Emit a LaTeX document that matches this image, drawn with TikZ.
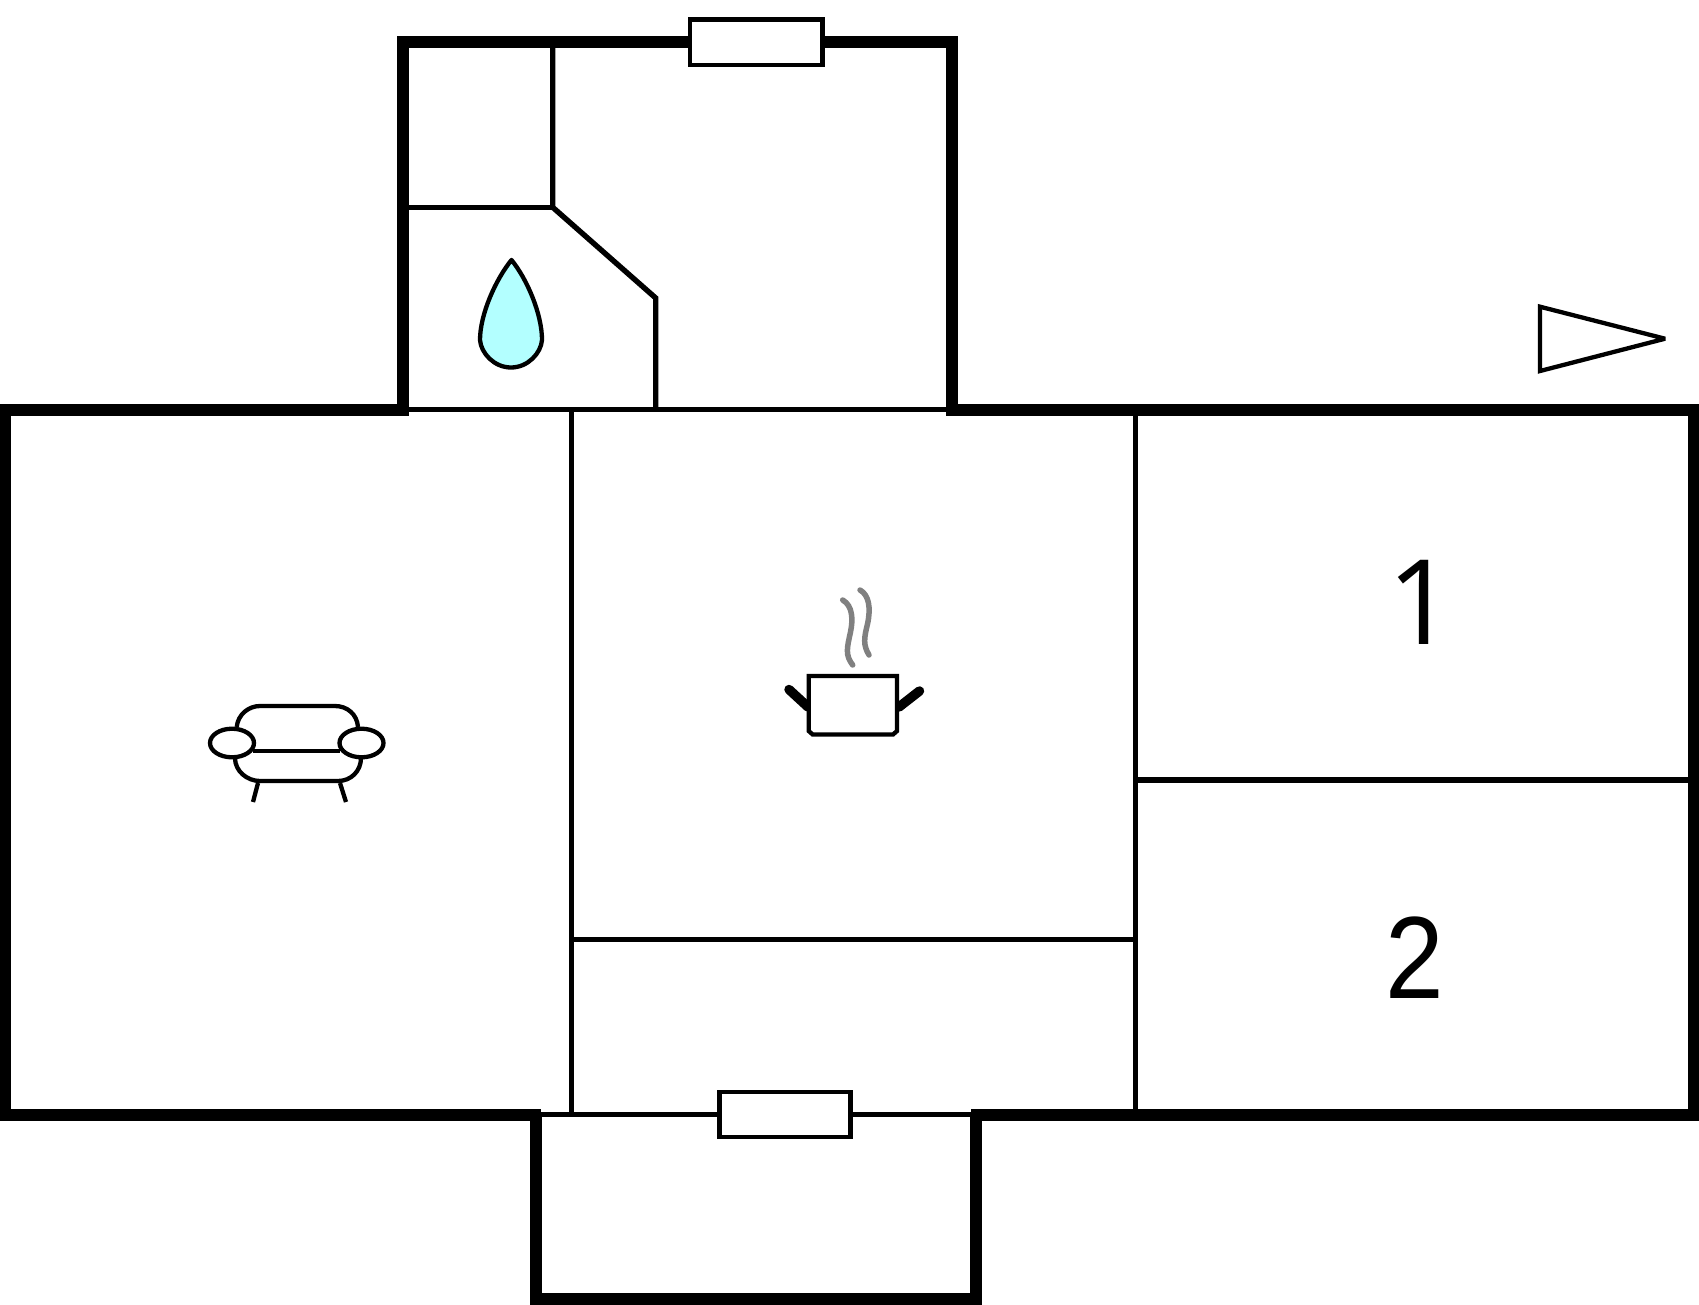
\documentclass[tikz,border=0pt]{standalone}
\usepackage{fontspec}
\setmainfont{Liberation Sans}
\newfontfamily\oneface{Open Sans}
\newfontfamily\twoface[FakeStretch=0.9]{Liberation Sans}
\definecolor{dropblue}{HTML}{B3FFFF}
\tikzset{
  x=1pt,y=-1pt,
  wall/.style={line width=12pt,draw=black},
  thin wall/.style={line width=5.4pt,draw=black},
  door/.style={line width=4.4pt,draw=black,fill=white},
  icon/.style={line width=4.3pt,draw=black},
  handle/.style={line width=9.5pt,draw=black,line cap=round},
  steam/.style={line width=5.5pt,draw=gray,line cap=round},
  numeral/.style={anchor=base,inner sep=0pt}
}
\begin{document}
\begin{tikzpicture}
\useasboundingbox (0,0) rectangle (1699,1304);
\clip (0,0) rectangle (1699,1304);
% thin partitions
\draw[thin wall] (404,409.5) -- (950,409.5);
\draw[thin wall] (540,1114.5) -- (972,1114.5);
\draw[thin wall] (552.7,45) -- (552.7,207.3) -- (655.7,298) -- (655.7,409);
\draw[thin wall] (404,207.3) -- (552.7,207.3);
\draw[thin wall] (571.5,410) -- (571.5,1114);
\draw[thin wall] (1135.5,410) -- (1135.5,1114);
\draw[thin wall] (1135.5,780) -- (1690,780);
\draw[thin wall] (571.5,939.5) -- (1135.5,939.5);
% thick walls
\draw[wall] (408.5,410) -- (5,410) -- (5,1114.5) -- (541,1114.5);
\draw[wall] (946,410) -- (1693.5,410) -- (1693.5,1114.5) -- (970.7,1114.5);
\draw[wall] (403,415) -- (403,42) -- (951.5,42) -- (951.5,415);
\draw[wall] (535.5,1114.5) -- (535.5,1298.5) -- (976,1298.5) -- (976,1114.5);
% doors
\draw[door] (690,19.5) rectangle (822.5,65);
\draw[door] (719.5,1092) rectangle (850.5,1137);
% water drop
\draw[icon,fill=dropblue,line join=round] (511.5,260)
  .. controls (527,279) and (542,314) .. (542,340)
  .. controls (541,353) and (528,367.5) .. (511,367.5)
  .. controls (494,367.5) and (481,353) .. (480,340)
  .. controls (480,314) and (496,279) .. (511.5,260) -- cycle;
% sofa
\draw[icon] (236.7,727) .. controls (238,714) and (249,706) .. (260,706) -- (335,706)
  .. controls (347,706) and (357,714) .. (358,727);
\draw[icon] (253,750.7) -- (340,750.7);
\draw[icon] (235,758) .. controls (235,771) and (247,781) .. (260,781) -- (338,781)
  .. controls (351,781) and (361,771) .. (361,758);
\draw[icon] (258,783) -- (253,802);
\draw[icon] (340,783) -- (346,802);
\draw[icon,fill=white] (232,743) ellipse [x radius=22,y radius=14.3];
\draw[icon,fill=white] (361.5,743) ellipse [x radius=22,y radius=14.3];
% pot
\draw[handle] (789,689.5) -- (808,707);
\draw[handle] (919.5,691) -- (899,707);
\draw[icon,fill=white] (808.7,676) -- (897,676) -- (897,731) -- (893,734.5) -- (812.7,734.5) -- (808.7,731) -- cycle;
\draw[steam] (842.7,600) .. controls (853,606) and (853,620) .. (850.5,632) .. controls (847,648) and (845,655) .. (852.7,665);
\draw[steam] (860,590) .. controls (869,595) and (871,608) .. (867.5,624) .. controls (864,638) and (863,645) .. (869,655);
% north arrow
\draw[icon,miter limit=2] (1540,306.7) -- (1665,338.7) -- (1540,371) -- cycle;
% numbers
\node[numeral,font=\oneface\fontsize{118}{118}\selectfont] (one) at (1421.5,644.3) {1};
\node[numeral,font=\twoface\fontsize{117}{117}\selectfont] (two) at (1415,998.3) {2};
\end{tikzpicture}
\end{document}
